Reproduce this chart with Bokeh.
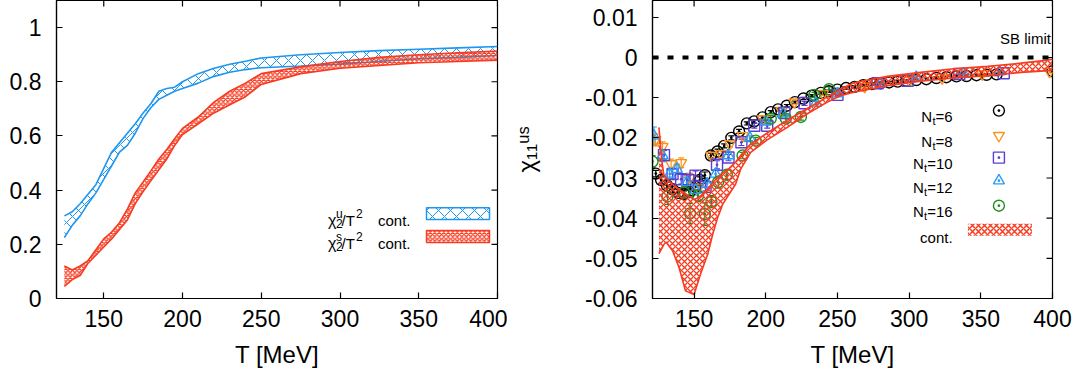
import math
from bokeh.plotting import figure
from bokeh.models import (ColumnDataSource, FixedTicker, Span, Whisker, TeeHead, Range1d)
from bokeh.layouts import row
from bokeh.embed import file_html
from bokeh.resources import INLINE
from bokeh.core.properties import value

FONT = "Liberation Sans"

# ---------------- data: left panel (continuum bands) ----------------
T_left = [125, 130, 135, 140, 145, 150, 155, 160, 165, 170, 175, 180, 185, 190, 195,
          200, 210, 220, 230, 240, 250, 275, 300, 325, 350, 375, 400]
chi2u_hi = [0.305, 0.320, 0.350, 0.385, 0.420, 0.480, 0.540, 0.575, 0.610, 0.645, 0.685,
            0.720, 0.765, 0.775, 0.780, 0.800, 0.830, 0.850, 0.865, 0.876, 0.888, 0.900,
            0.908, 0.915, 0.920, 0.925, 0.930]
chi2u_lo = [0.225, 0.270, 0.305, 0.350, 0.390, 0.440, 0.490, 0.540, 0.565, 0.610, 0.665,
            0.705, 0.735, 0.750, 0.765, 0.775, 0.795, 0.820, 0.835, 0.845, 0.852, 0.858,
            0.865, 0.875, 0.885, 0.890, 0.897]
chi2s_hi = [0.120, 0.105, 0.120, 0.140, 0.180, 0.220, 0.245, 0.280, 0.330, 0.390, 0.430,
            0.472, 0.515, 0.550, 0.590, 0.628, 0.670, 0.725, 0.765, 0.795, 0.830, 0.855,
            0.875, 0.890, 0.900, 0.907, 0.913]
chi2s_lo = [0.045, 0.070, 0.085, 0.130, 0.160, 0.190, 0.220, 0.255, 0.290, 0.350, 0.395,
            0.435, 0.475, 0.515, 0.565, 0.605, 0.645, 0.685, 0.715, 0.745, 0.790, 0.830,
            0.850, 0.860, 0.870, 0.875, 0.880]

# ---------------- data: right panel ----------------
T_cont = [125.5, 127.5, 129, 130.5, 135, 139.5, 144, 150, 154.5, 159.5, 163, 166.5, 170,
          174.5, 179, 182.5, 189.5, 201, 215, 229, 243, 252, 262, 285, 308, 331, 355, 378, 400]
chi11_hi = [-0.0174, -0.0257, -0.0294, -0.0300, -0.0316, -0.0328, -0.0339, -0.0354, -0.0345,
            -0.0327, -0.0312, -0.0298, -0.0288, -0.0276, -0.0260, -0.0244, -0.0215, -0.0188,
            -0.0156, -0.0127, -0.0098, -0.0078, -0.0062, -0.0047, -0.0037, -0.0028, -0.0022,
            -0.0014, -0.0005]
chi11_lo = [-0.0488, -0.0475, -0.0465, -0.0460, -0.0481, -0.0523, -0.0581, -0.0590, -0.0539,
            -0.0490, -0.0440, -0.0398, -0.0365, -0.0340, -0.0315, -0.0278, -0.0236, -0.0205,
            -0.0174, -0.0140, -0.0111, -0.0095, -0.0086, -0.0070, -0.0059, -0.0051, -0.0045,
            -0.0037, -0.0032]

T_nt6 = [123.3, 127, 131, 135, 139, 143, 147, 151, 154, 157.5, 161.7, 166.3, 171, 176, 181.4,
         186.8, 191.9, 197.7, 203.5, 208.6, 214.7, 220.3, 226.3, 232, 238.4, 244, 250, 256,
         262, 268, 274, 280, 286, 292, 298, 305, 312, 319, 326, 333, 340, 347, 354, 361, 400]
chi_nt6 = [-0.0289, -0.0305, -0.0318, -0.0328, -0.0337, -0.0340, -0.0335, -0.0322, -0.0305,
           -0.0293, -0.0244, -0.0234, -0.0220, -0.0200, -0.0184, -0.0164, -0.0159, -0.0149,
           -0.0136, -0.0129, -0.0120, -0.0111, -0.0102, -0.0095, -0.0088, -0.0084, -0.0080,
           -0.0076, -0.0073, -0.0069, -0.0066, -0.0064, -0.0062, -0.0060, -0.0058, -0.0056,
           -0.0054, -0.0051, -0.0049, -0.0047, -0.0046, -0.0044, -0.0043, -0.0042, -0.0034]
err_nt6 = [0.0008, 0.0008, 0.0008, 0.0008, 0.0008, 0.0008, 0.0008, 0.0008, 0.0008, 0.0008,
           0.0006, 0.0006, 0.0005, 0.0005, 0.0005, 0.0004, 0.0004, 0.0004, 0.0004, 0.0004,
           0.0003, 0.0003, 0.0003, 0.0003, 0.0003, 0.0003, 0.0003, 0.0003, 0.0003, 0.0003,
           0.0003, 0.0003, 0.0003, 0.0003, 0.0003, 0.0003, 0.0003, 0.0003, 0.0003, 0.0003,
           0.0003, 0.0003, 0.0003, 0.0003, 0.0003]

T_nt8 = [123, 128, 134, 141, 147, 153, 162, 169, 175, 184, 198, 211, 220, 240, 269, 300,
         323, 351, 398]
chi_nt8 = [-0.0205, -0.0222, -0.0265, -0.0262, -0.0300, -0.0325, -0.0244, -0.0240, -0.0215,
           -0.0195, -0.0153, -0.0132, -0.0111, -0.0090, -0.0072, -0.0057, -0.0051, -0.0041,
           -0.0035]
err_nt8 = [0.0015, 0.0012, 0.0012, 0.0012, 0.0012, 0.0012, 0.0010, 0.0010, 0.0008, 0.0008,
           0.0006, 0.0006, 0.0005, 0.0004, 0.0004, 0.0003, 0.0003, 0.0003, 0.0003]

T_nt10 = [129, 135, 141, 146, 151, 158, 166, 174, 183, 192, 201, 213, 227, 250, 278, 299,
          335, 366]
chi_nt10 = [-0.0243, -0.0290, -0.0303, -0.0305, -0.0294, -0.0322, -0.0267, -0.0249, -0.0211,
            -0.0170, -0.0170, -0.0138, -0.0114, -0.0093, -0.0064, -0.0058, -0.0041, -0.0039]
err_nt10 = [0.0012, 0.0012, 0.0012, 0.0012, 0.0012, 0.0010, 0.0010, 0.0008, 0.0008, 0.0006,
            0.0006, 0.0005, 0.0005, 0.0004, 0.0004, 0.0003, 0.0003, 0.0003]

T_nt12 = [122, 128, 133, 138, 145, 151, 159, 165, 174, 189, 200, 212, 235, 250, 280, 305,
          338, 363]
chi_nt12 = [-0.0195, -0.0244, -0.0290, -0.0278, -0.0311, -0.0330, -0.0315, -0.0290, -0.0244,
            -0.0201, -0.0160, -0.0140, -0.0113, -0.0090, -0.0065, -0.0049, -0.0040, -0.0035]
err_nt12 = [0.0022, 0.0015, 0.0012, 0.0012, 0.0012, 0.0012, 0.0010, 0.0010, 0.0008, 0.0006,
            0.0006, 0.0005, 0.0004, 0.0004, 0.0003, 0.0003, 0.0003, 0.0003]

T_nt16 = [121, 131.4, 143, 147.2, 152.8, 157.5, 162.1, 166.8, 172.8, 183.8, 193, 203.5, 214,
          224.5, 234, 244.2]
chi_nt16 = [-0.0259, -0.0346, -0.0336, -0.0388, -0.0344, -0.0390, -0.0359, -0.0310, -0.0292,
            -0.0244, -0.0207, -0.0152, -0.0152, -0.0148, -0.0093, -0.0079]
err_nt16 = [0.0015, 0.0020, 0.0015, 0.0025, 0.0015, 0.0028, 0.0015, 0.0015, 0.0012, 0.0008,
            0.0008, 0.0008, 0.0008, 0.0008, 0.0006, 0.0006]

SB_LIMIT = 0.0

x_ticks = [150, 200, 250, 300, 350, 400]
x_tick_labels = ["150", "200", "250", "300", "350", "400"]
yl_ticks = [0, 0.2, 0.4, 0.6, 0.8, 1.0]
yl_tick_labels = ["0", "0.2", "0.4", "0.6", "0.8", "1"]
yr_ticks = [-0.06, -0.05, -0.04, -0.03, -0.02, -0.01, 0.0, 0.01]
yr_tick_labels = ["-0.06", "-0.05", "-0.04", "-0.03", "-0.02", "-0.01", "0", "0.01"]

BLUE = "#1e96f0"
RED = "#f73b20"
series = [
    ("6", T_nt6, chi_nt6, err_nt6, "circle_dot", "#000000"),
    ("8", T_nt8, chi_nt8, err_nt8, "inverted_triangle", "#f7941d"),
    ("10", T_nt10, chi_nt10, err_nt10, "square_dot", "#5a3fd2"),
    ("12", T_nt12, chi_nt12, err_nt12, "triangle_dot", "#2b9cf2"),
    ("16", T_nt16, chi_nt16, err_nt16, "circle_dot", "#1f8f1f"),
]

# ---------------- layout helpers (reference pixel -> data) ----------------
def LX(px): return 120 + (px - 56) / 1.575
def LY(py): return (298 - py) / 271.3
def RX(px): return 150 + (px - 693.3) / 1.433
def RY(py): return -(py - 57) / 4011.0

def style_axis(ax, ticks, labels, standoff):
    ax.ticker = FixedTicker(ticks=ticks)
    ax.major_label_overrides = {t: l for t, l in zip(ticks, labels)}
    ax.major_tick_in = 6
    ax.major_tick_out = 0
    ax.minor_tick_in = 0
    ax.minor_tick_out = 0
    ax.axis_line_color = "black"
    ax.axis_line_width = 1.2
    ax.major_tick_line_color = "black"
    ax.major_tick_line_width = 1.2
    ax.major_label_text_font = FONT
    ax.major_label_text_color = "black"
    ax.major_label_standoff = standoff
    ax.major_label_text_font_size = "23px"
    ax.axis_label_text_font = FONT
    ax.axis_label_text_font_style = "normal"
    ax.axis_label_text_font_size = "24px"
    ax.axis_label_text_color = "black"


def make_fig(width, xr, yr, bl, br, yticks, ylabels):
    p = figure(width=width, height=378, x_range=Range1d(*xr), y_range=Range1d(*yr),
               output_backend="svg", toolbar_location=None,
               min_border_left=bl, min_border_right=br, min_border_top=0,
               min_border_bottom=80)
    p.grid.visible = False
    p.outline_line_color = "black"
    p.outline_line_width = 1.2
    p.background_fill_color = "white"
    p.border_fill_color = "white"
    style_axis(p.xaxis[0], x_ticks, x_tick_labels, 11)
    p.xaxis[0].axis_label = "T [MeV]"
    p.xaxis[0].axis_label_standoff = 11
    style_axis(p.yaxis[0], yticks, ylabels, 15)
    # mirrored inward ticks on the top and right edges (half of each dash is clipped)
    p.scatter(x=x_ticks, y=[yr[1]] * len(x_ticks), marker="dash", size=12,
              angle=math.pi / 2, line_color="black", line_width=1.2)
    p.scatter(x=[xr[1]] * len(yticks), y=yticks, marker="dash", size=12,
              line_color="black", line_width=1.2)
    return p

# ---------------- left panel ----------------
p1 = make_fig(507, (120, 400), (0, 1.1), 56, 10, yl_ticks, yl_tick_labels)

src_u = ColumnDataSource(dict(T=T_left, hi=chi2u_hi, lo=chi2u_lo))
src_s = ColumnDataSource(dict(T=T_left, hi=chi2s_hi, lo=chi2s_lo))
p1.varea(x="T", y1="lo", y2="hi", source=src_u, fill_color="white", fill_alpha=0,
         hatch_pattern="x", hatch_color=BLUE, hatch_scale=12, hatch_weight=1)
p1.line(x="T", y="hi", source=src_u, line_color=BLUE, line_width=1.6)
p1.line(x="T", y="lo", source=src_u, line_color=BLUE, line_width=1.6)
p1.varea(x="T", y1="lo", y2="hi", source=src_s, fill_color="white", fill_alpha=0,
         hatch_pattern="x", hatch_color=RED, hatch_scale=4.5, hatch_weight=1.3)
p1.line(x="T", y="hi", source=src_s, line_color=RED, line_width=1.6)
p1.line(x="T", y="lo", source=src_s, line_color=RED, line_width=1.6)

# legend (left)
for b, sup, col, sc, wt in [(220, "u", BLUE, 12, 1), (243, "s", RED, 4.5, 1.3)]:
    p1.text(x=[LX(327.5)], y=[LY(b)], text=["χ"], text_font=value(FONT),
            text_font_size="16px", text_align="left", text_baseline="alphabetic",
            text_color="black")
    p1.text(x=[LX(335.5), LX(335.5)], y=[LY(b + 3), LY(b - 7)], text=["2", sup],
            text_font=value(FONT), text_font_size="12px", text_align="left",
            text_baseline="alphabetic", text_color="black")
    p1.text(x=[LX(341)], y=[LY(b)], text=["/T"], text_font=value(FONT),
            text_font_size="15px", text_align="left", text_baseline="alphabetic",
            text_color="black")
    p1.text(x=[LX(355.5)], y=[LY(b - 7)], text=["2"], text_font=value(FONT),
            text_font_size="12px", text_align="left", text_baseline="alphabetic",
            text_color="black")
    p1.text(x=[LX(410)], y=[LY(b)], text=["cont."], text_font=value(FONT),
            text_font_size="15px", text_align="right", text_baseline="alphabetic",
            text_color="black")
    p1.quad(left=[LX(426)], right=[LX(489)], top=[LY(b - 13)], bottom=[LY(b - 1)],
            fill_color="white", fill_alpha=0, hatch_pattern="x", hatch_color=col,
            hatch_scale=sc, hatch_weight=wt, line_color=col, line_width=1.5)

# ---------------- right panel ----------------
p2 = make_fig(574, (121, 400), (-0.06, 0.0142), 145, 29, yr_ticks, yr_tick_labels)
p2.yaxis[0].axis_label = "χ₁₁ᵘˢ"
p2.yaxis[0].axis_label_standoff = 42
try:
    p2.yaxis[0].axis_label_orientation = "vertical"
except Exception:
    pass

p2.add_layout(Span(location=SB_LIMIT, dimension="width", line_color="black",
                   line_width=4, line_dash="6 9"))
p2.text(x=[RX(1050)], y=[RY(38)], text=["SB limit"], text_font=value(FONT),
        text_font_size="15px", text_align="right", text_baseline="alphabetic",
        text_color="black")

sym_py = [110, 135, 157, 180, 205]
base_py = [116, 141, 163, 187, 211]
W = {"=": 0.584, "0": 0.556, "1": 0.556, "2": 0.556, "6": 0.556, "8": 0.556}
for (nt, T, v, e, mk, col), spy, bpy in zip(series, sym_py, base_py):
    src = ColumnDataSource(dict(T=T, v=v, up=[a + b for a, b in zip(v, e)],
                                lo=[a - b for a, b in zip(v, e)]))
    p2.add_layout(Whisker(base="T", upper="up", lower="lo", source=src, dimension="height",
                          line_color=col, line_width=1.2,
                          upper_head=TeeHead(size=6, line_color=col, line_width=1.2),
                          lower_head=TeeHead(size=6, line_color=col, line_width=1.2)))
    p2.scatter(x="T", y="v", source=src, marker=mk, size=11, line_color=col,
               fill_color=None, line_width=1.4)
    # legend entry
    eq = "=" + nt
    w_eq = sum(W[c] for c in eq) * 15
    xr = 951.7
    p2.text(x=[RX(xr)], y=[RY(bpy)], text=[eq], text_font=value(FONT),
            text_font_size="15px", text_align="right", text_baseline="alphabetic",
            text_color="black")
    p2.text(x=[RX(xr - w_eq)], y=[RY(bpy + 4)], text=["t"], text_font=value(FONT),
            text_font_size="11px", text_align="right", text_baseline="alphabetic",
            text_color="black")
    p2.text(x=[RX(xr - w_eq - 3.3)], y=[RY(bpy)], text=["N"], text_font=value(FONT),
            text_font_size="15px", text_align="right", text_baseline="alphabetic",
            text_color="black")
    p2.scatter(x=[RX(998)], y=[RY(spy)], marker=mk, size=11, line_color=col,
               fill_color=None, line_width=1.4)

src_c = ColumnDataSource(dict(T=T_cont, hi=chi11_hi, lo=chi11_lo))
p2.varea(x="T", y1="lo", y2="hi", source=src_c, fill_color="white", fill_alpha=0,
         hatch_pattern="x", hatch_color=RED, hatch_scale=6, hatch_weight=1.3)
p2.line(x="T", y="hi", source=src_c, line_color=RED, line_width=1.6)
p2.line(x="T", y="lo", source=src_c, line_color=RED, line_width=1.6)

p2.text(x=[RX(951.7)], y=[RY(237)], text=["cont."], text_font=value(FONT),
        text_font_size="15px", text_align="right", text_baseline="alphabetic",
        text_color="black")
p2.quad(left=[RX(967)], right=[RX(1031)], top=[RY(223)], bottom=[RY(235)],
        fill_color="white", fill_alpha=0, hatch_pattern="x", hatch_color=RED,
        hatch_scale=6, hatch_weight=1.5, line_color=None)

layout = row(p1, p2)
open("out.html", "w").write(file_html(layout, INLINE))
